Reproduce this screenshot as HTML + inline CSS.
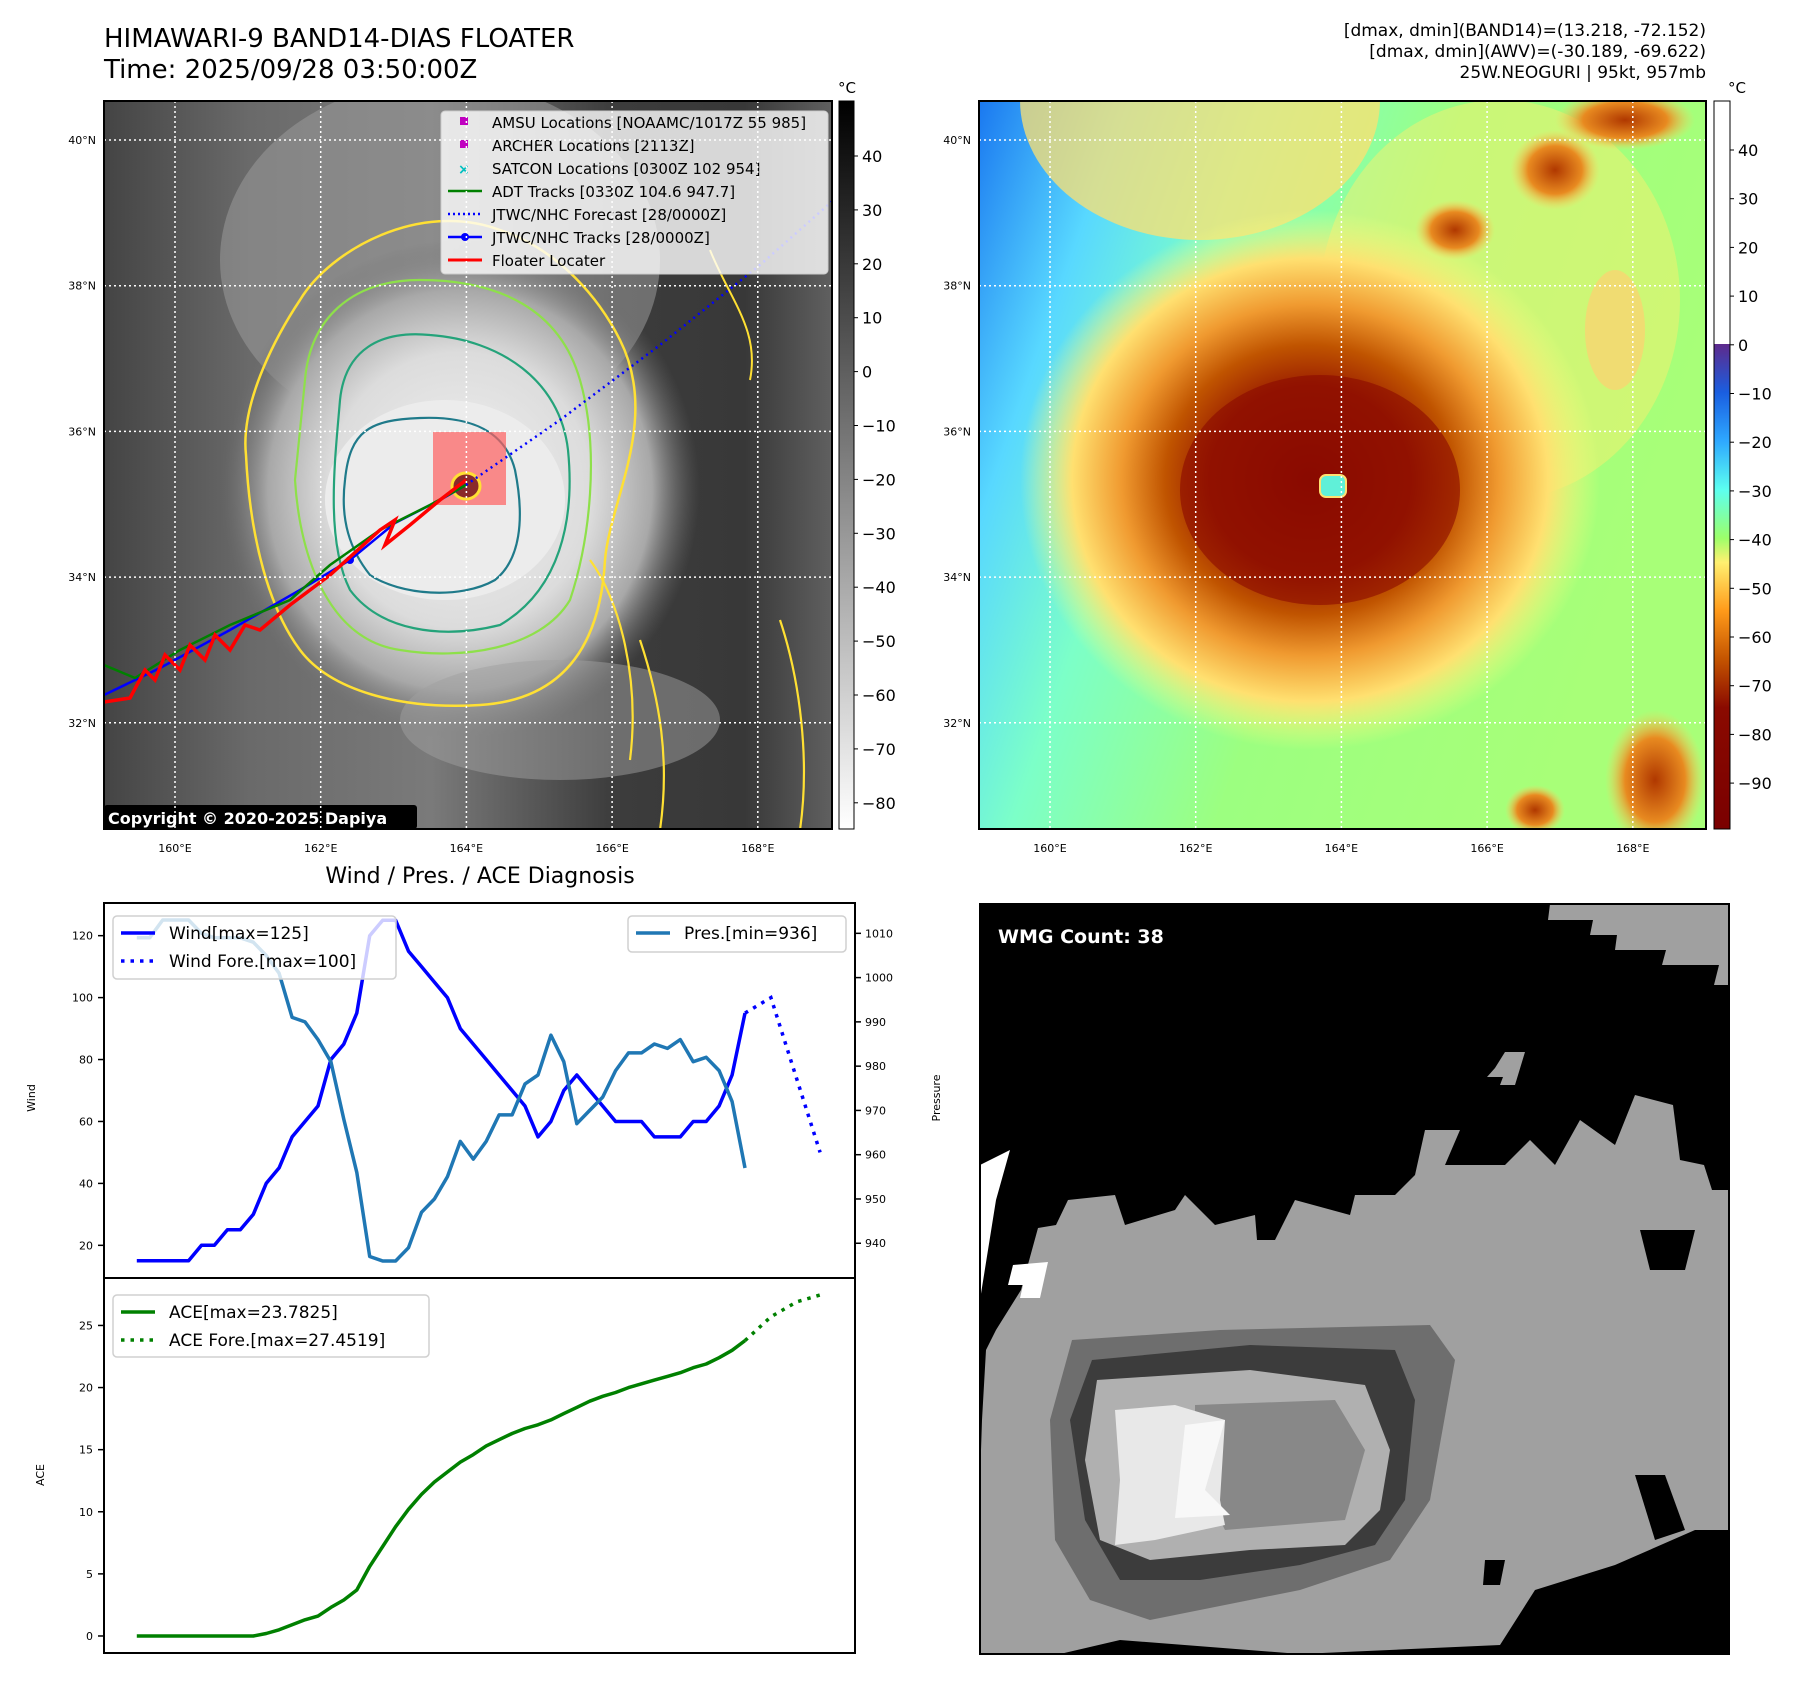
<!DOCTYPE html>
<html><head><meta charset="utf-8">
<style>
html,body{margin:0;padding:0;background:#fff;}
body{width:1797px;height:1690px;position:relative;overflow:hidden;font-family:"DejaVu Sans","Liberation Sans",sans-serif;}
.t{position:absolute;white-space:nowrap;color:#000;}
svg{position:absolute;left:0;top:0;}
</style></head>
<body>
<div class="t" style="left:104px;top:24px;font-size:26px;line-height:31px;">HIMAWARI-9 BAND14-DIAS FLOATER<br>Time: 2025/09/28 03:50:00Z</div>
<div class="t" style="right:91px;top:21px;font-size:17px;line-height:21px;text-align:right;">[dmax, dmin](BAND14)=(13.218, -72.152)<br>[dmax, dmin](AWV)=(-30.189, -69.622)<br>25W.NEOGURI | 95kt, 957mb</div>
<div class="t" style="left:480px;top:864px;font-size:22px;transform:translateX(-50%);">Wind / Pres. / ACE Diagnosis</div>

<svg width="1797" height="1690" viewBox="0 0 1797 1690" xmlns="http://www.w3.org/2000/svg" font-family="DejaVu Sans, Liberation Sans, sans-serif">
<defs>
 <radialGradient id="cloudL" cx="0.5" cy="0.5" r="0.5">
  <stop offset="0" stop-color="#f2f2f2"/><stop offset="0.55" stop-color="#dcdcdc"/><stop offset="0.8" stop-color="#a8a8a8"/><stop offset="1" stop-color="#6a6a6a" stop-opacity="0"/>
 </radialGradient>
 <linearGradient id="bgL" x1="0" y1="0" x2="1" y2="0">
  <stop offset="0" stop-color="#444"/><stop offset="0.2" stop-color="#6a6a6a"/><stop offset="0.45" stop-color="#7a7a7a"/><stop offset="0.7" stop-color="#3c3c3c"/><stop offset="0.88" stop-color="#383838"/><stop offset="1" stop-color="#606060"/>
 </linearGradient>
 <linearGradient id="cb1" x1="0" y1="0" x2="0" y2="1">
  <stop offset="0" stop-color="#000"/><stop offset="1" stop-color="#fff"/>
 </linearGradient>
 <linearGradient id="cb2" x1="0" y1="0" x2="0" y2="1">
  <stop offset="0" stop-color="#5e2a8c"/><stop offset="0.1" stop-color="#1a5ee0"/><stop offset="0.2" stop-color="#2ea8ff"/><stop offset="0.3" stop-color="#5cfff0"/><stop offset="0.4" stop-color="#9cff6a"/><stop offset="0.45" stop-color="#fff070"/><stop offset="0.55" stop-color="#ff9a1a"/><stop offset="0.65" stop-color="#c45400"/><stop offset="0.75" stop-color="#8a0a00"/><stop offset="1" stop-color="#7a0000"/>
 </linearGradient>
 <linearGradient id="bgR" x1="0" y1="0" x2="1" y2="0.35">
  <stop offset="0" stop-color="#1a78f0"/><stop offset="0.18" stop-color="#58d8ff"/><stop offset="0.35" stop-color="#7cffc8"/><stop offset="0.6" stop-color="#9cff80"/><stop offset="1" stop-color="#a8ff78"/>
 </linearGradient>
 <radialGradient id="stormR" cx="0.5" cy="0.5" r="0.5">
  <stop offset="0" stop-color="#8a0c00"/><stop offset="0.35" stop-color="#9c2000"/><stop offset="0.5" stop-color="#c05400"/><stop offset="0.65" stop-color="#f09a30"/><stop offset="0.82" stop-color="#ffe070"/><stop offset="1" stop-color="#f8ff80" stop-opacity="0"/>
 </radialGradient>
 <radialGradient id="blobR" cx="0.5" cy="0.5" r="0.5">
  <stop offset="0" stop-color="#b03800"/><stop offset="0.6" stop-color="#e88a20"/><stop offset="1" stop-color="#ffd060" stop-opacity="0"/>
 </radialGradient>
 <clipPath id="clipL"><rect x="104" y="101" width="728" height="728"/></clipPath>
 <clipPath id="clipR"><rect x="979" y="101" width="727" height="728"/></clipPath>
 <clipPath id="clipW"><rect x="980" y="904" width="749" height="750"/></clipPath>
</defs>

<!-- LEFT MAP -->
<g clip-path="url(#clipL)">
 <rect x="104" y="101" width="728" height="728" fill="url(#bgL)"/>
 <ellipse cx="440" cy="260" rx="220" ry="180" fill="#9a9a9a" opacity="0.55"/>
 <ellipse cx="460" cy="490" rx="240" ry="250" fill="url(#cloudL)"/>
 <ellipse cx="445" cy="500" rx="120" ry="100" fill="#ececec"/>
 <ellipse cx="560" cy="720" rx="160" ry="60" fill="#a0a0a0" opacity="0.5"/>
 <path d="M246,455 C240,400 280,330 300,300 C330,250 420,200 500,230 C560,250 600,300 620,340 C660,420 610,500 605,560 C600,650 560,700 480,705 C400,710 330,690 300,650 C270,610 250,540 246,455 Z" fill="none" stroke="#ffe033" stroke-width="2.5"/>
 <path d="M305,380 C310,320 350,280 420,280 C500,280 560,310 580,380 C600,450 590,540 570,600 C540,650 460,660 400,650 C330,640 300,560 295,480 Z" fill="none" stroke="#8ee04a" stroke-width="2.2"/>
 <path d="M340,400 C345,350 380,330 430,335 C500,340 560,380 568,450 C575,520 560,590 500,625 C440,640 380,630 350,590 C325,540 335,460 340,400 Z" fill="none" stroke="#24a37a" stroke-width="2.2"/>
 <path d="M345,480 C350,430 370,420 420,418 C470,416 505,430 515,470 C525,520 520,560 495,580 C460,600 400,595 370,575 C350,550 340,520 345,480 Z" fill="none" stroke="#1f7a8a" stroke-width="2.2"/>
 <path d="M590,560 C620,600 640,680 630,760 M640,640 C660,700 670,760 660,830 M780,620 C800,680 810,760 800,830" fill="none" stroke="#ffe033" stroke-width="2.2"/>
 <path d="M710,250 C730,300 760,330 750,380" fill="none" stroke="#ffe033" stroke-width="2"/>
 <rect x="433" y="432" width="73" height="73" fill="#ff6060" opacity="0.7"/>
 <ellipse cx="466" cy="486" rx="14" ry="13" fill="#8a2a2a" stroke="#ffe033" stroke-width="3"/>
 <polyline points="466,485 560,420 660,345 760,265 836,198" fill="none" stroke="#0000ff" stroke-width="2.5" stroke-dasharray="2,4"/>
 <polyline points="104,695 160,668 230,630 300,590 350,560 395,523 440,500 466,485" fill="none" stroke="#0000ff" stroke-width="2.5"/>
 <circle cx="350" cy="560" r="4" fill="#0000ff"/>
 <polyline points="104,665 135,678 180,650 230,625 290,600 330,565 380,530 430,505 466,485" fill="none" stroke="#008000" stroke-width="2.5"/>
 <polyline points="104,702 130,698 145,670 155,680 165,655 180,670 190,645 205,660 215,635 230,650 245,625 260,630 290,605 330,575 380,530 395,520 385,545 410,525 440,500 466,480" fill="none" stroke="#ff0000" stroke-width="3.5"/>
 <rect x="104" y="805" width="313" height="24" rx="3" fill="#000"/>
 <text x="108" y="824" font-size="16" font-weight="bold" fill="#fff">Copyright © 2020-2025 Dapiya</text>
</g>
<g>
 <rect x="441" y="111" width="387" height="163" rx="4" fill="#fff" fill-opacity="0.8" stroke="#ccc"/>
 <rect x="460" y="117" width="8" height="8" fill="#c000c0"/>
 <text x="492" y="128" font-size="15">AMSU Locations [NOAAMC/1017Z 55 985]</text>
 <rect x="460" y="140" width="8" height="8" fill="#c000c0"/>
 <text x="492" y="151" font-size="15">ARCHER Locations [2113Z]</text>
 <text x="458" y="174" font-size="14" fill="#00c0c0" font-weight="bold">×</text>
 <text x="492" y="174" font-size="15">SATCON Locations [0300Z 102 954]</text>
 <line x1="448" y1="191" x2="482" y2="191" stroke="#008000" stroke-width="2.5"/>
 <text x="492" y="197" font-size="15">ADT Tracks [0330Z 104.6 947.7]</text>
 <line x1="448" y1="214" x2="482" y2="214" stroke="#0000ff" stroke-width="2.5" stroke-dasharray="2,3"/>
 <text x="492" y="220" font-size="15">JTWC/NHC Forecast [28/0000Z]</text>
 <line x1="448" y1="237" x2="482" y2="237" stroke="#0000ff" stroke-width="2.5"/><circle cx="465" cy="237" r="4" fill="#0000ff"/>
 <text x="492" y="243" font-size="15">JTWC/NHC Tracks [28/0000Z]</text>
 <line x1="448" y1="260" x2="482" y2="260" stroke="#ff0000" stroke-width="3"/>
 <text x="492" y="266" font-size="15">Floater Locater</text>
</g>
<g id="gridL"></g>
<rect x="104" y="101" width="728" height="728" fill="none" stroke="#000" stroke-width="2"/>
<rect x="839" y="101" width="15" height="728" fill="url(#cb1)" stroke="#000" stroke-width="1"/>
<text x="847" y="93" font-size="15" text-anchor="middle">°C</text>
<g id="cb1ticks"></g>

<!-- RIGHT MAP -->
<g clip-path="url(#clipR)">
 <rect x="979" y="101" width="727" height="728" fill="url(#bgR)"/>
 <ellipse cx="1200" cy="100" rx="180" ry="140" fill="#ffe070" opacity="0.75"/>
 <ellipse cx="1500" cy="300" rx="180" ry="200" fill="#f8f070" opacity="0.5"/>
 <ellipse cx="1310" cy="480" rx="290" ry="270" fill="url(#stormR)"/>
 <ellipse cx="1320" cy="490" rx="140" ry="115" fill="#8a0800" opacity="0.6"/>
 <ellipse cx="1455" cy="230" rx="40" ry="30" fill="url(#blobR)"/>
 <ellipse cx="1555" cy="170" rx="45" ry="40" fill="url(#blobR)"/>
 <ellipse cx="1625" cy="120" rx="70" ry="30" fill="url(#blobR)"/>
 <ellipse cx="1655" cy="780" rx="50" ry="70" fill="url(#blobR)"/>
 <ellipse cx="1535" cy="810" rx="30" ry="25" fill="url(#blobR)"/>
 <ellipse cx="1615" cy="330" rx="30" ry="60" fill="#ffd070" opacity="0.7"/>
 <rect x="1320" y="475" width="26" height="22" rx="6" fill="#60f0d8" stroke="#ffe070" stroke-width="2"/>
</g>
<g id="gridR"></g>
<rect x="979" y="101" width="727" height="728" fill="none" stroke="#000" stroke-width="2"/>
<rect x="1714" y="101" width="16" height="243" fill="#fff"/>
<rect x="1714" y="344" width="16" height="485" fill="url(#cb2)"/>
<rect x="1714" y="101" width="16" height="728" fill="none" stroke="#000" stroke-width="1"/>
<text x="1737" y="93" font-size="15" text-anchor="middle">°C</text>
<g id="cb2ticks"></g>

<!-- WMG -->
<g clip-path="url(#clipW)">
 <rect x="980" y="904" width="749" height="750" fill="#000"/>
 <polygon fill="#a0a0a0" points="1550,904 1729,904 1729,985 1714,985 1719,965 1662,965 1666,950 1615,950 1617,935 1590,935 1593,920 1548,920"/>
 <polygon fill="#a0a0a0" points="1505,1052 1525,1052 1515,1085 1500,1085 1503,1077 1487,1077 1495,1068"/>
 <polygon fill="#a0a0a0" points="980,1654 1060,1654 1120,1640 1300,1654 1500,1645 1535,1590 1615,1565 1695,1530 1729,1530 1729,1190 1712,1190 1704,1165 1680,1160 1673,1105 1635,1095 1615,1145 1580,1120 1555,1165 1530,1140 1505,1165 1445,1165 1460,1130 1425,1130 1415,1175 1395,1195 1355,1195 1350,1215 1295,1200 1275,1240 1257,1240 1255,1215 1215,1225 1185,1195 1175,1210 1125,1225 1115,1195 1068,1200 1056,1225 1038,1228 1021,1290 996,1330 986,1350 982,1420 980,1480"/>
 <polygon fill="#000" points="1640,1230 1695,1230 1685,1270 1650,1270"/>
 <polygon fill="#000" points="1635,1475 1665,1475 1685,1530 1655,1540"/>
 <polygon fill="#000" points="1485,1560 1505,1560 1500,1585 1483,1585"/>
 <polygon fill="#fff" points="980,1165 1010,1150 996,1200 988,1250 980,1300"/>
 <polygon fill="#fff" points="1013,1265 1048,1262 1040,1298 1020,1298 1023,1285 1008,1285"/>
 <polygon fill="#6e6e6e" points="1072,1340 1220,1330 1430,1325 1455,1360 1430,1500 1390,1560 1300,1590 1150,1620 1090,1600 1055,1540 1050,1420"/>
 <polygon fill="#3c3c3c" points="1092,1360 1250,1345 1395,1350 1415,1400 1405,1500 1375,1545 1300,1565 1200,1580 1120,1580 1085,1520 1070,1420"/>
 <polygon fill="#b0b0b0" points="1097,1380 1250,1370 1365,1385 1390,1450 1380,1510 1345,1545 1250,1550 1150,1560 1100,1540 1085,1460"/>
 <polygon fill="#888" points="1195,1405 1335,1400 1365,1450 1345,1520 1225,1530 1195,1470"/>
 <polygon fill="#e8e8e8" points="1115,1410 1175,1405 1225,1420 1220,1500 1225,1525 1155,1540 1115,1545 1120,1480"/>
 <polygon fill="#f8f8f8" points="1185,1425 1225,1420 1205,1490 1230,1515 1175,1518"/>
 <text x="998" y="943" font-size="19" font-weight="bold" fill="#fff">WMG Count: 38</text>
</g>
<rect x="980" y="904" width="749" height="750" fill="none" stroke="#000" stroke-width="2"/>

<!-- WIND / PRES / ACE CHART -->
<g id="chart"></g>
</svg>

<script>
// ---- chart data ----
const obsIndex = [0,1,2,3,4,5,6,7,8,9,10,11,12,13,14,15,16,17,18,19,20,21,22,23,24,25,26,27,28,29,30,31,32,33,34,35,36,37,38,39,40,41,42,43,44,45,46,47];
const windObs = [15,15,15,15,15,20,20,25,25,30,40,45,55,60,65,80,85,95,120,125,125,115,110,105,100,90,85,80,75,70,65,55,60,70,75,70,65,60,60,60,55,55,55,60,60,65,75,95];
const presObs = [1009,1009,1013,1013,1013,1010,1009,1009,1009,1008,1005,1001,991,990,986,981,968,956,937,936,936,939,947,950,955,963,959,963,969,969,976,978,987,981,967,970,973,979,983,983,985,984,986,981,982,979,972,957];
const aceObs = [0,0,0,0,0,0,0,0,0,0,0.2,0.5,0.9,1.3,1.6,2.3,2.9,3.7,5.6,7.2,8.8,10.2,11.4,12.4,13.2,14.0,14.6,15.3,15.8,16.3,16.7,17.0,17.4,17.9,18.4,18.9,19.3,19.6,20.0,20.3,20.6,20.9,21.2,21.6,21.9,22.4,23.0,23.78];
const foreIndex = [47,49,52.8];
const windFore = [95,100,50];
const aceForeIndex = [47,49,51,52.8];
const aceFore = [23.78,25.7,26.9,27.45];
const windTicks = [20,40,60,80,100,120];
const presTicks = [940,950,960,970,980,990,1000,1010];
const aceTicks = [0,5,10,15,20,25];
const cb1Ticks = [40,30,20,10,0,-10,-20,-30,-40,-50,-60,-70,-80];
const cb2Ticks = [40,30,20,10,0,-10,-20,-30,-40,-50,-60,-70,-80,-90];
const latTicks = [40,38,36,34,32];
const lonTicks = [160,162,164,166,168];

const NS='http://www.w3.org/2000/svg';
function mk(parent,tag,attrs,txt){const e=document.createElementNS(NS,tag);for(const k in attrs)e.setAttribute(k,attrs[k]);if(txt!==undefined)e.textContent=txt;parent.appendChild(e);return e;}

const AX={l:104,r:855,t1:903,b1:1278,t2:1278,b2:1653};
const xs=i=>136.8+(i-0)*(745-136.8)/47;
const yW=v=>AX.b1-(v-9.45)/(130.55-9.45)*(AX.b1-AX.t1);
const yP=v=>AX.b1-(v-932.15)/(1016.85-932.15)*(AX.b1-AX.t1);
const yA=v=>AX.b2-(v+1.37)/(28.82+1.37)*(AX.b2-AX.t2);
const ch=document.getElementById('chart');
function pts(xArr,yArr,f){return xArr.map((x,i)=>xs(x).toFixed(1)+','+f(yArr[i]).toFixed(1)).join(' ');}

mk(ch,'rect',{x:AX.l,y:AX.t1,width:AX.r-AX.l,height:AX.b2-AX.t1,fill:'#fff'});
let e;
e=mk(ch,'polyline',{points:pts(obsIndex,windObs,yW),fill:'none',stroke:'#0000ff','stroke-width':3.5,'stroke-linejoin':'round'});


e=mk(ch,'polyline',{points:pts(foreIndex,windFore,yW),fill:'none',stroke:'#0000ff','stroke-width':3.5,'stroke-dasharray':'3.5,6'});


e=mk(ch,'polyline',{points:pts(obsIndex,presObs,yP),fill:'none',stroke:'#1f77b4','stroke-width':3.5,'stroke-linejoin':'round'});


e=mk(ch,'polyline',{points:pts(obsIndex,aceObs,yA),fill:'none',stroke:'#008000','stroke-width':3.5,'stroke-linejoin':'round'});


e=mk(ch,'polyline',{points:pts(aceForeIndex,aceFore,yA),fill:'none',stroke:'#008000','stroke-width':3.5,'stroke-dasharray':'3.5,6'});



mk(ch,'rect',{x:AX.l,y:AX.t1,width:AX.r-AX.l,height:AX.b1-AX.t1,fill:'none',stroke:'#000','stroke-width':2});
mk(ch,'rect',{x:AX.l,y:AX.t2,width:AX.r-AX.l,height:AX.b2-AX.t2,fill:'none',stroke:'#000','stroke-width':2});
windTicks.forEach(v=>{const y=yW(v);mk(ch,'line',{x1:AX.l-6,x2:AX.l,y1:y,y2:y,stroke:'#000','stroke-width':1.5});
 const t=mk(ch,'text',{x:AX.l-11,y:y+4,'font-size':11,'text-anchor':'end'},v);
 
 });
presTicks.forEach(v=>{const y=yP(v);mk(ch,'line',{x1:AX.r,x2:AX.r+6,y1:y,y2:y,stroke:'#000','stroke-width':1.5});
 const t=mk(ch,'text',{x:AX.r+10,y:y+4,'font-size':11},v);
 
 });
aceTicks.forEach(v=>{const y=yA(v);mk(ch,'line',{x1:AX.l-6,x2:AX.l,y1:y,y2:y,stroke:'#000','stroke-width':1.5});
 const t=mk(ch,'text',{x:AX.l-11,y:y+4,'font-size':11,'text-anchor':'end'},v);
 
 });
e=mk(ch,'text',{x:0,y:0,'font-size':11,'text-anchor':'middle',transform:'translate(35,1098) rotate(-90)'},'Wind');


e=mk(ch,'text',{x:0,y:0,'font-size':11,'text-anchor':'middle',transform:'translate(940,1098) rotate(-90)'},'Pressure');


e=mk(ch,'text',{x:0,y:0,'font-size':11,'text-anchor':'middle',transform:'translate(44,1475) rotate(-90)'},'ACE');



function legend(x,y,w,h,items,name){const g=mk(ch,'g',{});
 
 
 mk(g,'rect',{x:x,y:y,width:w,height:h,rx:4,fill:'#fff','fill-opacity':0.8,stroke:'#d0d0d0','stroke-width':1.5});
 items.forEach((it,i)=>{const cy=y+17+i*28;mk(g,'line',{x1:x+8,x2:x+42,y1:cy,y2:cy,stroke:it[1],'stroke-width':3.5,'stroke-dasharray':it[2]?'3.5,6':'none'});
 mk(g,'text',{x:x+56,y:cy+6,'font-size':17},it[0]);});}
legend(113,916,283,63,[['Wind[max=125]','#0000ff',0],['Wind Fore.[max=100]','#0000ff',1]],'wind-legend');
legend(628,916,218,36,[['Pres.[min=936]','#1f77b4',0]],'pressure-legend');
legend(113,1295,316,62,[['ACE[max=23.7825]','#008000',0],['ACE Fore.[max=27.4519]','#008000',1]],'ace-legend');

function grid(id,x0,x1,labelX){const g=document.getElementById(id);
 latTicks.forEach(v=>{const y=140+(40-v)/2*145.7;mk(g,'line',{x1:x0,x2:x1,y1:y,y2:y,stroke:'#fff','stroke-width':1.5,'stroke-dasharray':'2,3'});
  const t=mk(g,'text',{x:labelX,y:y+4,'font-size':11,'text-anchor':'end'},v+'°N');
  
  });
 lonTicks.forEach(v=>{const x=x0+71+(v-160)/2*145.7;mk(g,'line',{x1:x,x2:x,y1:101,y2:829,stroke:'#fff','stroke-width':1.5,'stroke-dasharray':'2,3'});
  const t=mk(g,'text',{x:x,y:852,'font-size':11,'text-anchor':'middle'},v+'°E');
  
  });}
grid('gridL',104,832,96);
grid('gridR',979,1706,971);

function cbTicks(id,arr,x,y40,per10){const g=document.getElementById(id);
 arr.forEach(v=>{const y=y40+(40-v)/10*per10;mk(g,'line',{x1:x,x2:x+4,y1:y,y2:y,stroke:'#000'});
  const t=mk(g,'text',{x:x+8,y:y+6,'font-size':16},String(v).replace('-','\u2212'));
  
  });}
cbTicks('cb1ticks',cb1Ticks,854,156,53.9);
cbTicks('cb2ticks',cb2Ticks,1730,150,48.7);
</script>
</body></html>
